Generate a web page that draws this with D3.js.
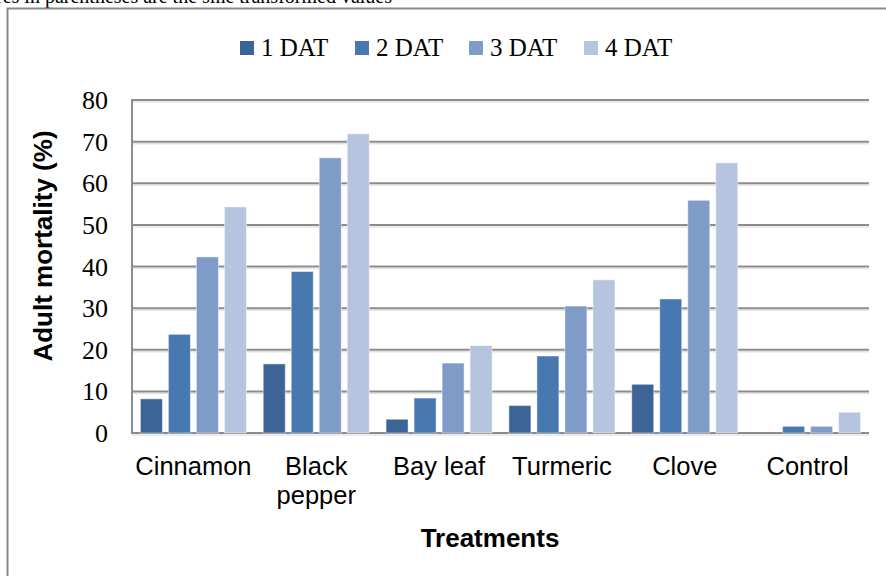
<!DOCTYPE html>
<html>
<head>
<meta charset="utf-8">
<script src="https://cdn.jsdelivr.net/npm/d3@7"></script>
<style>
  html, body { margin: 0; padding: 0; background: #fff; overflow: hidden; }
  svg { display: block; }
</style>
</head>
<body>
<script>
const categories = [["Cinnamon"], ["Black", "pepper"], ["Bay leaf"], ["Turmeric"], ["Clove"], ["Control"]];
const categoryNames = ["Cinnamon", "Black pepper", "Bay leaf", "Turmeric", "Clove", "Control"];
const seriesNames = ["1 DAT", "2 DAT", "3 DAT", "4 DAT"];
const seriesColors = ["#3c6496", "#4878b0", "#7f9bc8", "#b6c4df"];
const dat1 = [8.2, 16.6, 3.3, 6.6, 11.7, 0];
const dat2 = [23.7, 38.8, 8.4, 18.5, 32.2, 1.6];
const dat3 = [42.3, 66.1, 16.8, 30.5, 55.9, 1.6];
const dat4 = [54.3, 71.9, 21.0, 36.8, 64.9, 5.0];
const seriesValues = [dat1, dat2, dat3, dat4];
const yTicks = [0, 10, 20, 30, 40, 50, 60, 70, 80];
const yTitle = "Adult mortality (%)";
const xTitle = "Treatments";
const topNote = "Figures in parentheses are the sine transformed values";

const W = 886, H = 576;
const svg = d3.select("body").append("svg").attr("width", W).attr("height", H);

// clipped note at top
svg.append("text")
  .attr("x", 392).attr("y", 3)
  .attr("text-anchor", "end")
  .attr("font-family", "Liberation Serif, serif")
  .attr("font-size", 20)
  .attr("fill", "#000")
  .text(topNote);

// outer chart border
svg.append("rect")
  .attr("x", 7.5).attr("y", 8.5)
  .attr("width", W + 20).attr("height", H + 20)
  .attr("fill", "none").attr("stroke", "#8a8a8a").attr("stroke-width", 2);

const plot = { left: 132, right: 869, top: 100, bottom: 433 };

const y = d3.scaleLinear().domain([0, 80]).range([plot.bottom, plot.top]);
const x0 = d3.scaleBand().domain(categoryNames).range([plot.left, plot.right]).paddingInner(0).paddingOuter(0);
const x1 = d3.scaleBand().domain(seriesNames).range([0, x0.bandwidth()]).paddingInner(0.2143).paddingOuter(0.3);

// gridlines with soft shadow
const grid = svg.append("g");
yTicks.forEach(t => {
  grid.append("line")
    .attr("x1", plot.left).attr("x2", plot.right)
    .attr("y1", y(t) + 2).attr("y2", y(t) + 2)
    .attr("stroke", "#e4e4e4").attr("stroke-width", 1.5);
  grid.append("line")
    .attr("x1", plot.left).attr("x2", plot.right)
    .attr("y1", y(t)).attr("y2", y(t))
    .attr("stroke", "#8c8c8c").attr("stroke-width", 2);
});

// left axis line
svg.append("line")
  .attr("x1", plot.left).attr("x2", plot.left)
  .attr("y1", plot.top - 1).attr("y2", plot.bottom + 1)
  .attr("stroke", "#8c8c8c").attr("stroke-width", 2);

// bars
const bars = svg.append("g");
seriesNames.forEach((s, si) => {
  bars.selectAll(null)
    .data(categoryNames.map((c, ci) => ({ c, v: seriesValues[si][ci] })))
    .enter().append("rect")
    .attr("x", d => x0(d.c) + x1(s))
    .attr("width", x1.bandwidth())
    .attr("y", d => y(d.v))
    .attr("height", d => y(0) - y(d.v))
    .attr("fill", seriesColors[si])
    .attr("stroke", "rgba(255,255,255,0.45)")
    .attr("stroke-width", 1)
    .style("display", d => d.v > 0 ? null : "none");
});

// y axis tick labels via d3 axis
const yAxis = d3.axisLeft(y).tickValues(yTicks).tickSize(0).tickPadding(0);
const yg = svg.append("g").attr("transform", `translate(108,0)`).call(yAxis);
yg.select(".domain").remove();
yg.selectAll("text")
  .attr("font-family", "Liberation Serif, serif")
  .attr("font-size", 26)
  .attr("fill", "#000")
  .attr("dy", "0.33em");

// x category labels
const xg = svg.append("g");
categories.forEach((lines, i) => {
  const t = xg.append("text")
    .attr("x", x0(categoryNames[i]) + x0.bandwidth() / 2)
    .attr("y", 475)
    .attr("text-anchor", "middle")
    .attr("font-family", "Liberation Sans, Arial, sans-serif")
    .attr("font-size", 25.5)
    .attr("fill", "#000");
  lines.forEach((ln, li) => {
    t.append("tspan")
      .attr("x", x0(categoryNames[i]) + x0.bandwidth() / 2)
      .attr("dy", li === 0 ? 0 : 29)
      .text(ln);
  });
});

// axis titles
svg.append("text")
  .attr("x", 490).attr("y", 547)
  .attr("text-anchor", "middle")
  .attr("font-family", "Liberation Sans, Arial, sans-serif")
  .attr("font-weight", "bold")
  .attr("font-size", 26)
  .text(xTitle);

svg.append("text")
  .attr("transform", `translate(52,246) rotate(-90)`)
  .attr("text-anchor", "middle")
  .attr("font-family", "Liberation Sans, Arial, sans-serif")
  .attr("font-weight", "bold")
  .attr("font-size", 26)
  .text(yTitle);

// legend
const legendX = [240, 355, 469, 584];
const lg = svg.append("g");
seriesNames.forEach((s, i) => {
  lg.append("rect")
    .attr("x", legendX[i]).attr("y", 41)
    .attr("width", 14).attr("height", 14)
    .attr("fill", seriesColors[i]);
  lg.append("text")
    .attr("x", legendX[i] + 21).attr("y", 56)
    .attr("font-family", "Liberation Serif, serif")
    .attr("font-size", 25)
    .attr("fill", "#000")
    .text(s);
});
</script>
</body>
</html>
